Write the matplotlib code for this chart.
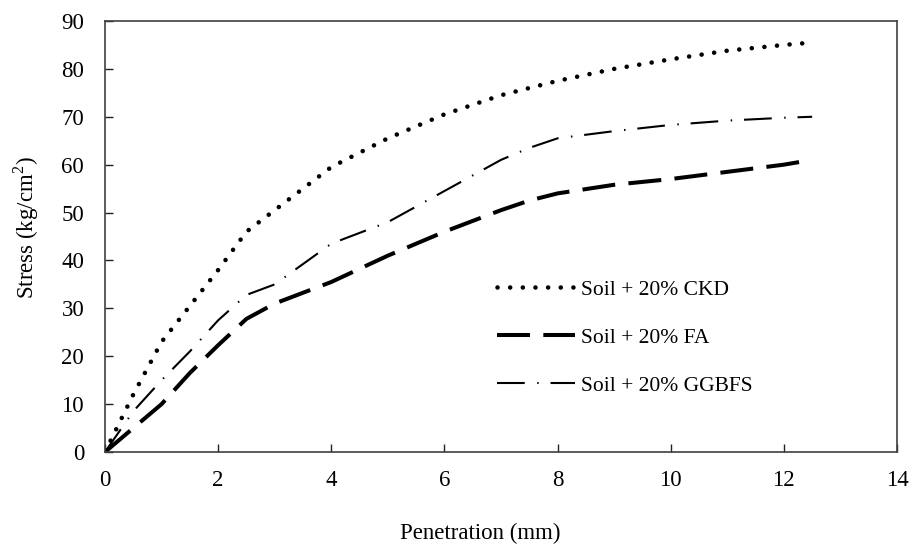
import matplotlib
matplotlib.use("Agg")
import matplotlib.pyplot as plt

penetration = [0, 0.5, 1, 1.5, 2, 2.5, 3, 4, 5, 6, 7, 7.5, 8, 9, 10, 11, 12, 12.5]
ckd = [0, 12, 23, 30.5, 38, 46, 50.5, 59.5, 65.5, 70.5, 74.5, 76, 77.5, 80, 82, 83.8, 85, 85.5]
fa = [0, 5, 10, 16.5, 22.3, 27.8, 31, 35.5, 41, 46, 50.5, 52.5, 54, 55.8, 57, 58.5, 60, 61]
ggbfs = [0, 8.5, 15, 21, 27.5, 32.8, 35, 43.5, 48, 54.5, 61, 63.5, 65.5, 67, 68.3, 69.2, 69.8, 70]
labels = ["Soil + 20% CKD", "Soil + 20% FA", "Soil + 20% GGBFS"]

plt.rcParams['font.family'] = ['Liberation Serif', 'DejaVu Serif']
plt.rcParams['mathtext.fontset'] = 'custom'
plt.rcParams['mathtext.rm'] = 'Liberation Serif'

fig = plt.figure(figsize=(9.11, 5.47), dpi=100)
ax = fig.add_axes([105/911, (547-452)/547, 792/911, 431/547])

ax.plot(penetration, ckd, color='black', lw=3.3, linestyle=(0, (0.01, 2.75)),
        dash_capstyle='round', label=labels[0])
ax.plot(penetration, fa, color='black', lw=2.9, linestyle=(0, (8.2, 3.3)),
        label=labels[1])
ax.plot(penetration, ggbfs, color='black', lw=1.5, linestyle=(0, (13.3, 6, 0.7, 5.7)),
        label=labels[2])

ax.set_xlim(0, 14)
ax.set_ylim(0, 90)
ax.set_xticks(range(0, 15, 2))
ax.set_yticks(range(0, 91, 10))
ax.tick_params(direction='in', length=6, width=1, colors='#222222',
               labelsize=16.5, top=False, right=False)
ax.tick_params(axis='x', pad=13)
ax.tick_params(axis='y', pad=15)
for lbl in ax.get_xticklabels() + ax.get_yticklabels():
    lbl.set_color('black')
for s in ax.spines.values():
    s.set_color('#404040')
    s.set_linewidth(1.2)

ax.set_xlabel("Penetration (mm)", fontsize=16.5)
ax.xaxis.set_label_coords((480 - 105) / 792, -(533 - 452) / 431, transform=ax.transAxes)
ax.xaxis.label.set_verticalalignment('center')
ax.set_ylabel("Stress (kg/cm$^2$)", fontsize=16.5)
ax.yaxis.set_label_coords(-(105 - 26) / 792, (452 - 228) / 431, transform=ax.transAxes)
ax.yaxis.label.set_verticalalignment('center')

leg = ax.legend(loc='upper left', bbox_to_anchor=(0.495, 0.40), frameon=False,
                fontsize=15.5, handlelength=3.6, handletextpad=0.3,
                labelspacing=1.3, borderpad=0, borderaxespad=0)

fig.savefig("out.png", dpi=100)
